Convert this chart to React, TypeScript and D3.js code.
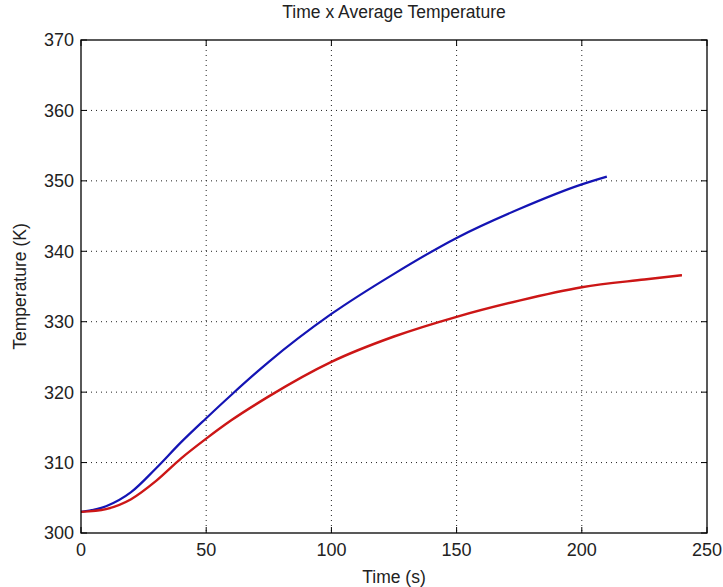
import React from "react";
import * as d3 from "d3";

const blueTime = [0, 10, 20, 30, 40, 50, 60, 75, 100, 125, 150, 175, 200, 210];
const blueTemp = [303.0, 303.8, 305.8, 309.2, 312.9, 316.3, 319.6, 324.3, 331.1, 336.8, 341.9, 346.0, 349.5, 350.6];

const redTime = [0, 10, 20, 30, 40, 50, 60, 75, 100, 125, 150, 175, 200, 225, 240];
const redTemp = [303.0, 303.4, 304.8, 307.4, 310.6, 313.4, 316.0, 319.4, 324.3, 327.9, 330.7, 333.0, 334.9, 336.0, 336.6];

const xTicks = [0, 50, 100, 150, 200, 250];
const yTicks = [300, 310, 320, 330, 340, 350, 360, 370];

const titleText = "Time x Average Temperature";
const xLabel = "Time (s)";
const yLabel = "Temperature (K)";

export default function App() {
  const W = 723, H = 587;
  const L = 81, R = 707, T = 40, B = 533;
  const x = d3.scaleLinear().domain([0, 250]).range([L, R]);
  const y = d3.scaleLinear().domain([300, 370]).range([B, T]);
  const line = d3
    .line<[number, number]>()
    .x((d) => x(d[0]))
    .y((d) => y(d[1]))
    .curve(d3.curveMonotoneX);
  const blue = blueTime.map((t, i) => [t, blueTemp[i]] as [number, number]);
  const red = redTime.map((t, i) => [t, redTemp[i]] as [number, number]);
  const font = "'Liberation Sans', Arial, sans-serif";
  const tl = 6;
  return (
    <svg width={W} height={H} style={{ position: "absolute", left: 0, top: 0, background: "#fff" }}>
      <rect x={0} y={0} width={W} height={H} fill="#fff" />
      {xTicks.slice(1, -1).map((t) => (
        <line key={"gx" + t} x1={x(t)} x2={x(t)} y1={T} y2={B} stroke="#222" strokeWidth={1} strokeDasharray="1,4" />
      ))}
      {yTicks.slice(1, -1).map((t) => (
        <line key={"gy" + t} x1={L} x2={R} y1={y(t)} y2={y(t)} stroke="#222" strokeWidth={1} strokeDasharray="1,4" />
      ))}
      <path d={line(blue) || ""} fill="none" stroke="#1414b4" strokeWidth={2.2} />
      <path d={line(red) || ""} fill="none" stroke="#cc1616" strokeWidth={2.4} />
      <rect x={L} y={T} width={R - L} height={B - T} fill="none" stroke="#000" strokeWidth={1.3} />
      {xTicks.map((t) => (
        <g key={"tx" + t}>
          <line x1={x(t)} x2={x(t)} y1={B} y2={B - tl} stroke="#000" />
          <line x1={x(t)} x2={x(t)} y1={T} y2={T + tl} stroke="#000" />
          <text x={x(t)} y={556} textAnchor="middle" fontFamily={font} fontSize={18} fill="#222">
            {t}
          </text>
        </g>
      ))}
      {yTicks.map((t) => (
        <g key={"ty" + t}>
          <line x1={L} x2={L + tl} y1={y(t)} y2={y(t)} stroke="#000" />
          <line x1={R} x2={R - tl} y1={y(t)} y2={y(t)} stroke="#000" />
          <text x={74} y={y(t)} dy="0.36em" textAnchor="end" fontFamily={font} fontSize={18} fill="#222">
            {t}
          </text>
        </g>
      ))}
      <text x={(L + R) / 2} y={18} textAnchor="middle" fontFamily={font} fontSize={17.5} fill="#222">
        {titleText}
      </text>
      <text x={(L + R) / 2} y={583} textAnchor="middle" fontFamily={font} fontSize={17.5} fill="#222">
        {xLabel}
      </text>
      <text
        transform={`translate(26,${(T + B) / 2}) rotate(-90)`}
        textAnchor="middle"
        fontFamily={font}
        fontSize={17.5}
        fill="#222"
      >
        {yLabel}
      </text>
    </svg>
  );
}
